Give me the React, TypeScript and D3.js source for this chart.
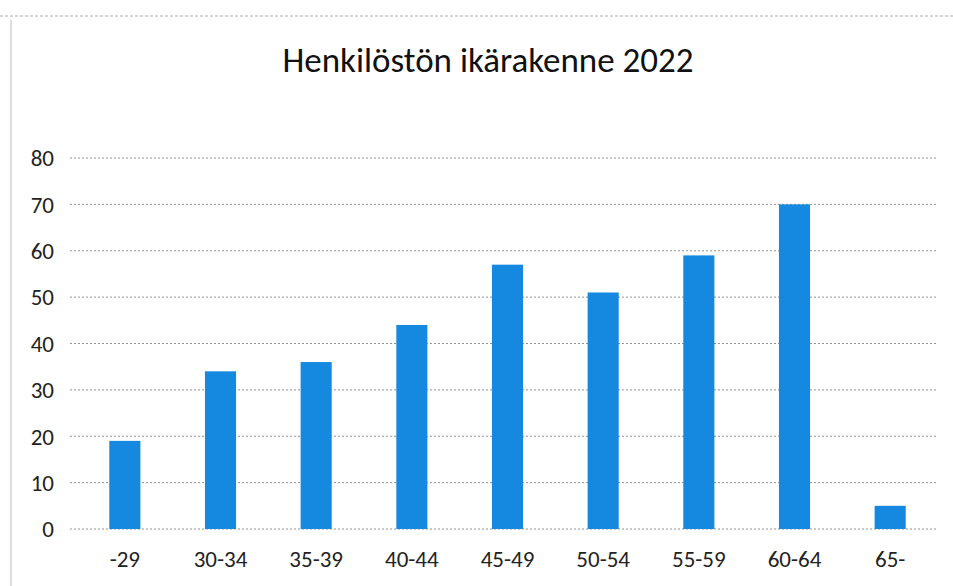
import React from "react";
import * as d3 from "d3";

const categories = ["-29", "30-34", "35-39", "40-44", "45-49", "50-54", "55-59", "60-64", "65-"];
const values = [19, 34, 36, 44, 57, 51, 59, 70, 5];
const yTicks = [0, 10, 20, 30, 40, 50, 60, 70, 80];
const title = "Henkilöstön ikärakenne 2022";

const W = 953;
const H = 586;
const FONT = "Carlito, Lato, 'Open Sans', sans-serif";

export default function App() {
  const x = d3.scaleBand<string>().domain(categories).range([77, 938]).paddingInner(0.675).paddingOuter(0.3375);
  const y = d3.scaleLinear().domain([0, 80]).range([529, 158]);

  return (
    <svg width={W} height={H} style={{ position: "absolute", left: 0, top: 0, background: "#fff" }}>
      <rect x={0} y={0} width={W} height={H} fill="#fff" />
      <line x1={0} x2={W} y1={16} y2={16} stroke="#777" strokeWidth={1} strokeDasharray="3,2" opacity={0.6} />
      <line x1={11} x2={11} y1={20} y2={H} stroke="#bbb" strokeWidth={1} />
      <text x={488} y={72} textAnchor="middle" fontFamily={FONT} fontSize={35} fill="#111">
        {title}
      </text>
      {yTicks.map((t) => (
        <g key={t}>
          <line x1={70} x2={938} y1={y(t)} y2={y(t)} stroke="#666" strokeWidth={1} strokeDasharray="2,2" opacity={0.7} />
          <text x={54} y={y(t)} dy="0.36em" textAnchor="end" fontFamily={FONT} fontSize={23} fill="#222">
            {t}
          </text>
        </g>
      ))}
      {categories.map((c, i) => (
        <rect key={c} x={x(c)} y={y(values[i])} width={x.bandwidth()} height={y(0) - y(values[i])} fill="#1589e0" />
      ))}
      {categories.map((c) => (
        <text key={c} x={(x(c) as number) + x.bandwidth() / 2} y={567} textAnchor="middle" fontFamily={FONT} fontSize={23} fill="#222">
          {c}
        </text>
      ))}
    </svg>
  );
}
